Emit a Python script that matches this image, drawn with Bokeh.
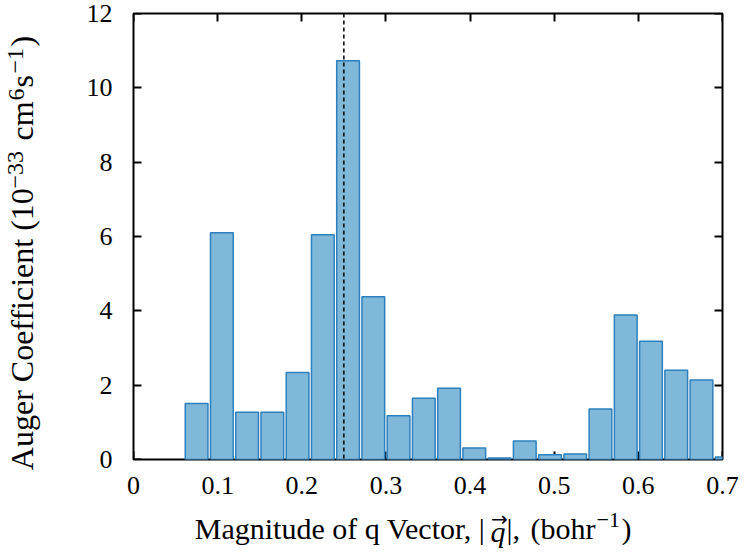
from bokeh.plotting import figure
from bokeh.models import Range1d, FixedTicker, LinearAxis, Span, ColumnDataSource
from bokeh.embed import file_html
from bokeh.resources import INLINE

# ---- data ----
q_centers = [0.075, 0.105, 0.135, 0.165, 0.195, 0.225, 0.255, 0.285, 0.315, 0.345,
             0.375, 0.405, 0.435, 0.465, 0.495, 0.525, 0.555, 0.585, 0.615, 0.645,
             0.675, 0.705]
auger = [1.51, 6.10, 1.27, 1.27, 2.34, 6.05, 10.73, 4.38, 1.18, 1.65,
         1.92, 0.31, 0.04, 0.50, 0.13, 0.145, 1.36, 3.89, 3.18, 2.40,
         2.14, 0.07]
bar_width = 0.027
q_marker = 0.25

x_ticks = [0, 0.1, 0.2, 0.3, 0.4, 0.5, 0.6, 0.7]
x_tick_labels = ["0", "0.1", "0.2", "0.3", "0.4", "0.5", "0.6", "0.7"]
y_ticks = [0, 2, 4, 6, 8, 10, 12]
y_tick_labels = ["0", "2", "4", "6", "8", "10", "12"]

# axis titles, split into runs (normal / italic / superscript)
x_title_main = ["Magnitude of q Vector, |", "|,", "(bohr", ")"]
x_title_italic = ["q"]
x_title_sup = ["\u22121"]
x_title_arrow = ["\u2192"]
y_title_main = ["Auger Coefficient (10", "cm", "s", ")"]
y_title_sup = ["\u221233", "6", "\u22121"]

FONT = "Liberation Serif"
ARROW_FONT = "DejaVu Sans"

# ---- layout (pixels of the 745x554 canvas) ----
L, R, T, B = 133, 722, 13, 459

# approximate Times advance widths (1/1000 em), used to centre each run
ADV = {" ": 250, "(": 333, ")": 333, ",": 250, "|": 200, "\u2212": 564,
       "A": 722, "C": 667, "M": 889, "V": 722, "a": 444, "b": 500, "c": 444,
       "d": 500, "e": 444, "f": 333, "g": 500, "h": 500, "i": 278, "m": 778,
       "n": 500, "o": 500, "q": 500, "r": 333, "s": 389, "t": 278, "u": 500}


def run_width(text, size):
    return sum(ADV.get(ch, 500) for ch in text) * size / 1000.0


p = figure(width=745, height=554, output_backend="svg", toolbar_location=None,
           x_range=Range1d(0, 0.7), y_range=Range1d(0, 12),
           x_axis_location=None, y_axis_location=None,
           min_border_left=L, min_border_right=745 - R, min_border_top=T,
           min_border_bottom=554 - B)
# pixel ranges used only to place the title runs
p.extra_x_ranges = {"px": Range1d(L, R)}
p.extra_y_ranges = {"px": Range1d(B, T)}
p.grid.visible = False
p.outline_line_color = "black"
p.outline_line_width = 2
p.background_fill_color = "white"
p.border_fill_color = "white"

src = ColumnDataSource(dict(x=q_centers, top=auger))
p.vbar(x="x", top="top", width=bar_width, bottom=0, source=src,
       fill_color="#80b8da", line_color="#2d80bd", line_width=1.5)

p.add_layout(Span(location=q_marker, dimension="height", line_color="black",
                  line_dash="4 3", line_width=1.5))


def tick_axis(ticks):
    """Inward ticks only, drawn beneath the bars."""
    ax = LinearAxis(ticker=FixedTicker(ticks=ticks))
    ax.level = "underlay"
    ax.axis_line_color = None
    ax.major_tick_in = 8
    ax.major_tick_out = 0
    ax.major_tick_line_width = 2
    ax.major_tick_line_color = "black"
    ax.minor_tick_line_color = None
    ax.major_label_overrides = {t: "" for t in ticks}
    ax.major_label_standoff = 0
    ax.major_label_text_font_size = "1px"
    return ax


def text_axis(positions, texts, size, standoff, style="normal", range_name=None,
              orientation="horizontal", vertical=False, font=FONT):
    kw = {}
    if range_name:
        kw["y_range_name" if vertical else "x_range_name"] = range_name
    ax = LinearAxis(ticker=FixedTicker(ticks=positions), **kw)
    ax.axis_line_color = None
    ax.major_tick_line_color = None
    ax.major_tick_in = 0
    ax.major_tick_out = 0
    ax.minor_tick_line_color = None
    ax.major_label_text_font = font
    ax.major_label_text_font_size = f"{size}px"
    ax.major_label_text_font_style = style
    ax.major_label_text_color = "black"
    ax.major_label_standoff = standoff
    ax.major_label_orientation = orientation
    ax.major_label_overrides = {t: s for t, s in zip(positions, texts)}
    return ax


for ticks, side in ((x_ticks, "below"), (y_ticks, "left"),
                    (x_ticks, "above"), (y_ticks, "right")):
    p.add_layout(tick_axis(ticks), side)

# tick labels
p.add_layout(text_axis(x_ticks, x_tick_labels, 26, 17), "below")
p.add_layout(text_axis(y_ticks, y_tick_labels, 26, 21, vertical=True), "left")

# ---- x title: run starts (px) ----
xm_start = [192, 506, 530, 621]
xi_start = [490]
xs_start = [596]
xa_center = [499]
xm_pos = [round(s + run_width(t, 30) / 2, 2) for s, t in zip(xm_start, x_title_main)]
xi_pos = [round(s + run_width(t, 30) / 2, 2) for s, t in zip(xi_start, x_title_italic)]
xs_pos = [round(s + run_width(t, 22) / 2, 2) for s, t in zip(xs_start, x_title_sup)]

# stacked rows below the tick labels: main, italic, superscript, arrow
p.add_layout(text_axis(xm_pos, x_title_main, 30, 15, range_name="px"), "below")
p.add_layout(text_axis(xi_pos, x_title_italic, 30, -33, style="italic",
                       range_name="px"), "below")
p.add_layout(text_axis(xs_pos, x_title_sup, 22, -38, range_name="px"), "below")
p.add_layout(text_axis(xa_center, x_title_arrow, 20, -44, range_name="px",
                       font=ARROW_FONT), "below")

# ---- y title (reads upward): run starts (px from top) ----
ym_start = [470, 140, 87, 46]
ys_start = [188, 100, 73]
ym_pos = [round(s - run_width(t, 32) / 2, 2) for s, t in zip(ym_start, y_title_main)]
ys_pos = [round(s - run_width(t, 24) / 2, 2) for s, t in zip(ys_start, y_title_sup)]

p.add_layout(text_axis(ym_pos, y_title_main, 32, 43, range_name="px",
                       orientation="vertical", vertical=True), "left")
p.add_layout(text_axis(ys_pos, y_title_sup, 24, -22, range_name="px",
                       orientation="vertical", vertical=True), "left")

open("out.html", "w").write(file_html(p, INLINE))
